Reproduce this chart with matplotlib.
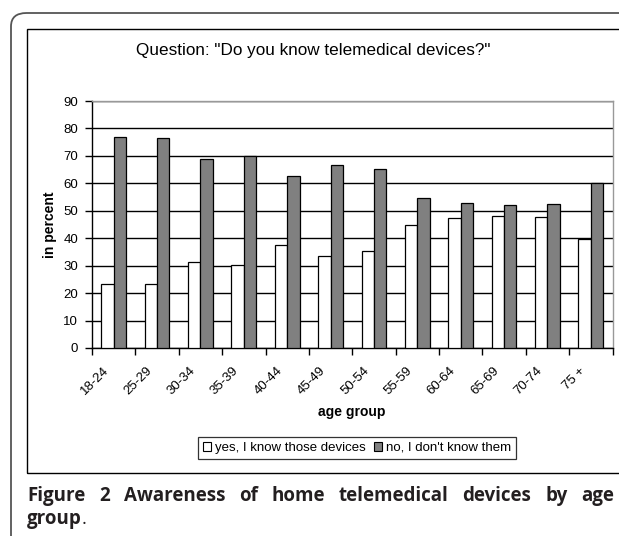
import numpy as np
import matplotlib
matplotlib.use("Agg")
import matplotlib.pyplot as plt
from matplotlib.patches import FancyBboxPatch, Rectangle, Patch

categories = ["18-24", "25-29", "30-34", "35-39", "40-44", "45-49", "50-54",
              "55-59", "60-64", "65-69", "70-74", "75 +"]
yes_know = [23.2, 23.5, 31.4, 30.2, 37.4, 33.4, 35.3, 45.0, 47.3, 48.1, 47.7, 39.8]
no_know = [76.8, 76.5, 69.0, 69.9, 62.6, 66.6, 65.1, 54.8, 52.7, 52.0, 52.4, 60.2]
yticks = list(range(0, 100, 10))
title = 'Question: "Do you know telemedical devices?"'
ylabel = "in percent"
xlabel = "age group"
legend_labels = ["yes, I know those devices", "no, I don't know them"]
caption_bold_1 = "Figure 2 Awareness of home telemedical devices by age"
caption_bold_2 = "group"

W, H = 619, 536
fig = plt.figure(figsize=(W / 100, H / 100), dpi=100)
fig.patch.set_facecolor("white")

def fx(px):
    return px / W

def fy(py):
    return 1 - py / H

FONT = "Liberation Sans"

# outer rounded frame
outer = FancyBboxPatch((fx(11), fy(570)), fx(640), (570 - 13) / H,
                       boxstyle="round,pad=0,rounding_size=0.025",
                       transform=fig.transFigure, fill=False,
                       edgecolor="#555555", linewidth=1.3, clip_on=False)
fig.patches.append(outer)
# inner chart box
inner = Rectangle((fx(27), fy(473)), fx(640), (473 - 29) / H,
                  transform=fig.transFigure, fill=False,
                  edgecolor="black", linewidth=1.0)
fig.patches.append(inner)

ax = fig.add_axes([fx(92), fy(348), (612.5 - 92) / W, (348 - 101) / H])
x = np.arange(len(categories))
bw = 0.285
ax.bar(x - bw / 2, yes_know, bw, color="white", edgecolor="black",
       linewidth=0.9, zorder=3)
ax.bar(x + bw / 2, no_know, bw, color="#808080", edgecolor="black",
       linewidth=0.9, zorder=3)

ax.set_xlim(-0.5, len(categories) - 0.5)
ax.set_ylim(0, 90)
ax.set_yticks(yticks)
ax.set_yticklabels([str(v) for v in yticks], fontsize=9.5, family=FONT)
ax.yaxis.grid(True, color="black", linewidth=1.0)
ax.set_axisbelow(True)
ax.tick_params(axis="y", length=5, width=1, direction="out", pad=5)

ax.set_xticks(x)
ax.set_xticklabels([])
ax.set_xticks(np.arange(len(categories) + 1) - 0.5, minor=True)
ax.tick_params(axis="x", which="major", length=0)
ax.tick_params(axis="x", which="minor", length=5, width=1, direction="out")

for i, lab in enumerate(categories):
    ax.annotate(lab, xy=(i, 0), xycoords="data", xytext=(-2, -12),
                textcoords="offset points", rotation=45, ha="right", va="top",
                fontsize=9.5, family=FONT, annotation_clip=False)

for s in ["top", "right"]:
    ax.spines[s].set_color("#999999")
    ax.spines[s].set_linewidth(1.0)
for s in ["left", "bottom"]:
    ax.spines[s].set_color("black")
    ax.spines[s].set_linewidth(1.0)

fig.text(fx(313), fy(51), title, ha="center", va="center", fontsize=12.3,
         family=FONT)
fig.text(fx(50), fy(225), ylabel, ha="center", va="center", rotation=90,
         fontsize=10, fontweight="bold", family=FONT)
fig.text(fx(352), fy(412), xlabel, ha="center", va="center",
         fontsize=10, fontweight="bold", family=FONT)

handles = [Patch(facecolor="white", edgecolor="black", linewidth=0.8),
           Patch(facecolor="#808080", edgecolor="black", linewidth=0.8)]
leg = fig.legend(handles, legend_labels, loc="center", ncol=2,
                 bbox_to_anchor=(fx(357), fy(448)), frameon=True, fancybox=False,
                 prop={"family": FONT, "size": 9.5},
                 handlelength=0.6, handleheight=0.6, handletextpad=0.3,
                 columnspacing=0.6, borderpad=0.4, edgecolor="black")
leg.get_frame().set_linewidth(0.9)

# justified caption
fig.canvas.draw()
renderer = fig.canvas.get_renderer()
cap_props = dict(fontsize=13.5, fontweight="bold", family="Open Sans",
                 color="#231f20", va="baseline", ha="left")
words = caption_bold_1.split()
widths = []
tmp = []
for w_ in words:
    t = fig.text(0, 0, w_, **cap_props)
    bb = t.get_window_extent(renderer)
    widths.append(bb.width)
    tmp.append(t)
for t in tmp:
    t.remove()
left, right = 27, 614
gap = (right - left - sum(widths)) / (len(words) - 1)
pos = left
for w_, wd in zip(words, widths):
    fig.text(fx(pos), fy(501), w_, **cap_props)
    pos += wd + gap
t2 = fig.text(fx(left), fy(524), caption_bold_2, **cap_props)
bb2 = t2.get_window_extent(renderer)
p = dict(cap_props)
p["fontweight"] = "normal"
fig.text(fx(left) + bb2.width / W, fy(524), ".", **p)

fig.savefig("out.png", dpi=100)
